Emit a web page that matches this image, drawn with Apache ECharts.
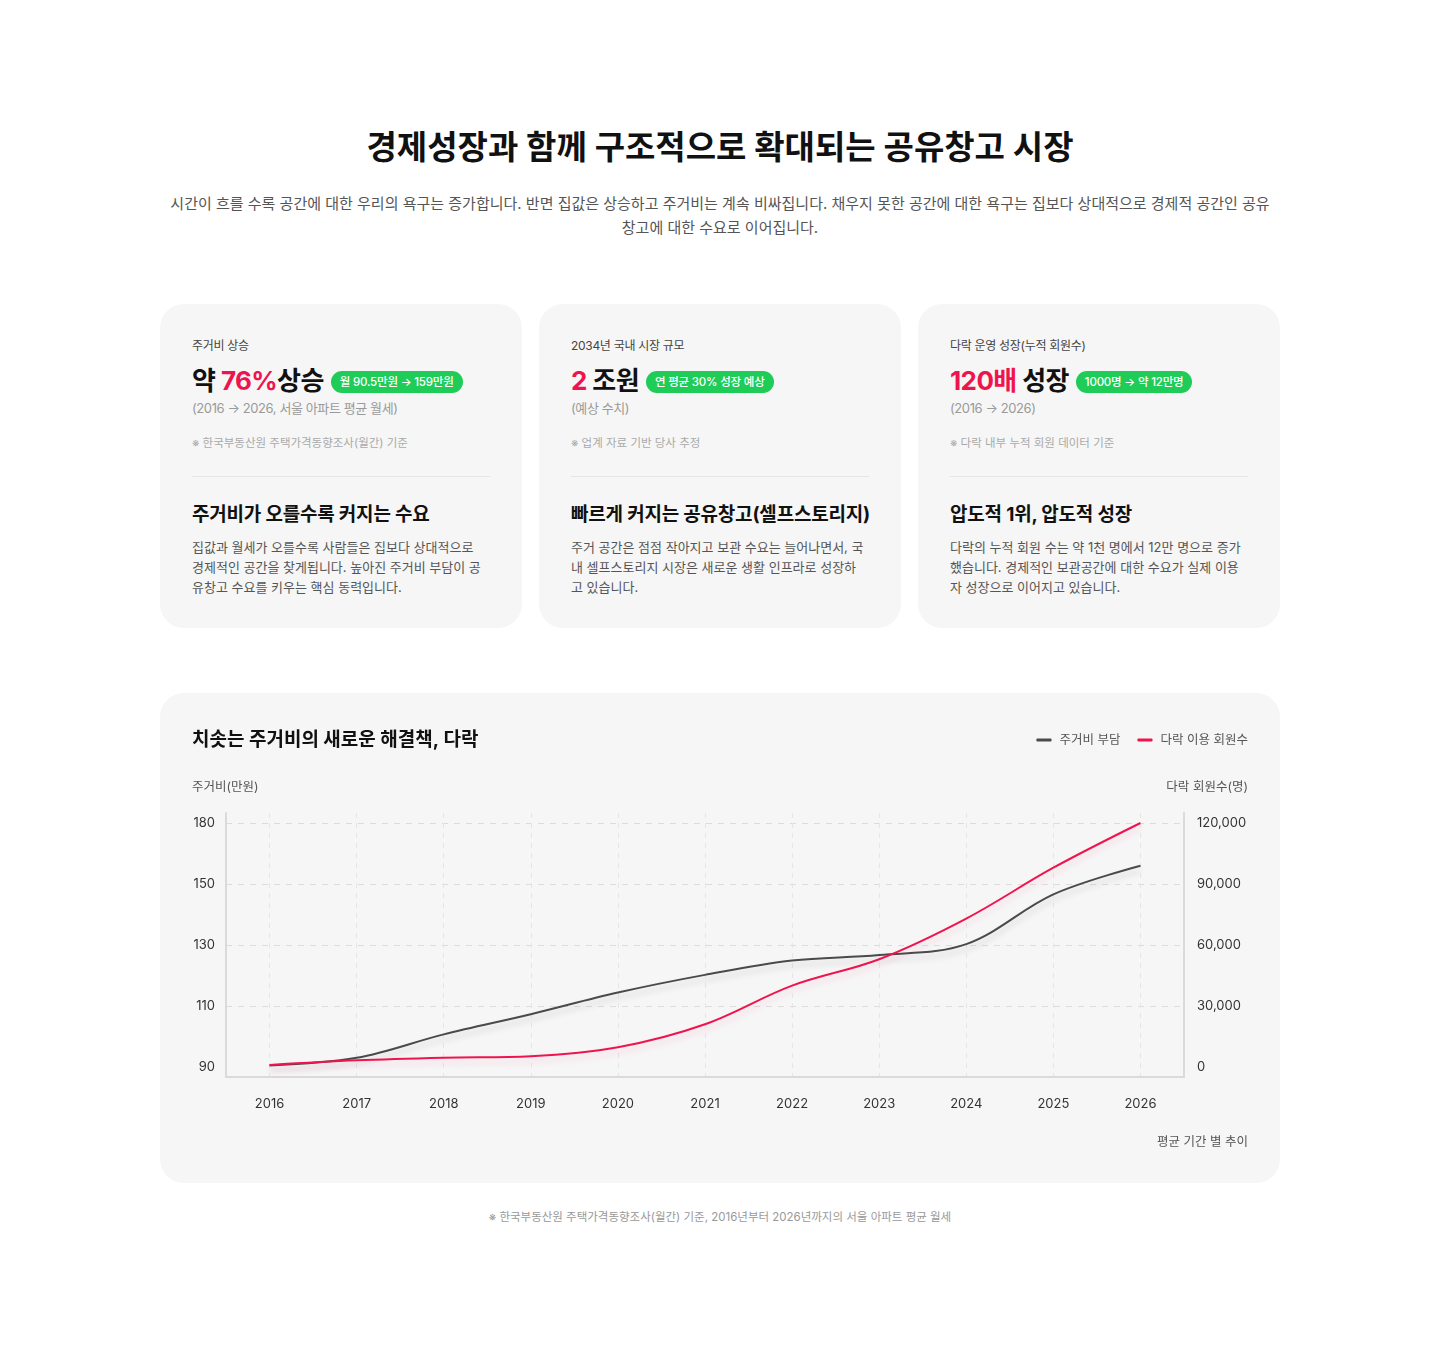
<!DOCTYPE html>
<html lang="ko">
<head>
<meta charset="utf-8">
<title>공유창고 시장</title>
<script src="https://cdn.jsdelivr.net/npm/echarts@6/dist/echarts.min.js"></script>
<style>
  * { margin: 0; padding: 0; box-sizing: border-box; }
  body { width: 1440px; height: 1346px; background: #fff; font-family: Inter, "Noto Sans CJK KR", sans-serif; color: #111; position: relative; }
  .abs { position: absolute; }
  .h_title { left: 0; width: 1440px; top: 125px; line-height: 44px; font-size: 33px; font-weight: 700; text-align: center; }
  .h_sub { left: 0; width: 1440px; top: 192px; line-height: 24px; font-size: 15px; color: #555; text-align: center; white-space: nowrap; }
  .card { top: 304px; width: 362px; height: 324px; background: #f6f6f6; border-radius: 24px; }
  .card > div { position: absolute; left: 32px; white-space: nowrap; }
  .c_label { top: 34px; line-height: 16px; font-size: 12px; color: #444; letter-spacing: -0.3px; }
  .c_big { top: 61px; line-height: 32px; font-size: 26px; font-weight: 700; letter-spacing: -0.6px; }
  .c_big .red { color: #f0144e; }
  .badge { display: inline-block; vertical-align: 4px; margin-left: 7px; height: 22px; line-height: 22px; padding: 0 9px; border-radius: 11px; background: #1fcc58; color: #fff; font-size: 11.5px; font-weight: 500; letter-spacing: -0.2px; }
  .c_sub { top: 95px; line-height: 18px; font-size: 13px; color: #9a9a9a; letter-spacing: -0.4px; }
  .c_note { top: 131px; line-height: 16px; font-size: 11.5px; color: #aaa; }
  .c_line { top: 172px; width: 298px; height: 1px; background: #e6e6e6; }
  .c_head { top: 198px; line-height: 26px; font-size: 19px; font-weight: 700; letter-spacing: -0.2px; }
  .c_body { top: 233px; line-height: 20px; font-size: 13px; color: #555; }
  .chart_card { left: 160px; top: 693px; width: 1120px; height: 490px; background: #f6f6f6; border-radius: 24px; }
  #main { position: absolute; left: 0; top: 0; width: 1120px; height: 490px; }
  .foot { left: 0; width: 1440px; top: 1209px; line-height: 16px; font-size: 11.5px; color: #999; text-align: center; }
</style>
</head>
<body>

<div class="abs h_title">경제성장과 함께 구조적으로 확대되는 공유창고 시장</div>
<div class="abs h_sub">시간이 흐를 수록 공간에 대한 우리의 욕구는 증가합니다. 반면 집값은 상승하고 주거비는 계속 비싸집니다. 채우지 못한 공간에 대한 욕구는 집보다 상대적으로 경제적 공간인 공유<br>창고에 대한 수요로 이어집니다.</div>

<!-- 카드 1 -->
<div class="abs card" style="left:160px">
  <div class="c_label">주거비 상승</div>
  <div class="c_big">약 <span class="red">76%</span>상승<span class="badge">월 90.5만원 → 159만원</span></div>
  <div class="c_sub">(2016 → 2026, 서울 아파트 평균 월세)</div>
  <div class="c_note">※ 한국부동산원 주택가격동향조사(월간) 기준</div>
  <div class="c_line"></div>
  <div class="c_head">주거비가 오를수록 커지는 수요</div>
  <div class="c_body">집값과 월세가 오를수록 사람들은 집보다 상대적으로<br>경제적인 공간을 찾게됩니다. 높아진 주거비 부담이 공<br>유창고 수요를 키우는 핵심 동력입니다.</div>
</div>

<!-- 카드 2 -->
<div class="abs card" style="left:539px">
  <div class="c_label">2034년 국내 시장 규모</div>
  <div class="c_big"><span class="red">2</span> 조원<span class="badge">연 평균 30% 성장 예상</span></div>
  <div class="c_sub">(예상 수치)</div>
  <div class="c_note">※ 업계 자료 기반 당사 추정</div>
  <div class="c_line"></div>
  <div class="c_head">빠르게 커지는 공유창고(셀프스토리지)</div>
  <div class="c_body">주거 공간은 점점 작아지고 보관 수요는 늘어나면서, 국<br>내 셀프스토리지 시장은 새로운 생활 인프라로 성장하<br>고 있습니다.</div>
</div>

<!-- 카드 3 -->
<div class="abs card" style="left:918px">
  <div class="c_label">다락 운영 성장(누적 회원수)</div>
  <div class="c_big"><span class="red">120배</span> 성장<span class="badge">1000명 → 약 12만명</span></div>
  <div class="c_sub">(2016 → 2026)</div>
  <div class="c_note">※ 다락 내부 누적 회원 데이터 기준</div>
  <div class="c_line"></div>
  <div class="c_head">압도적 1위, 압도적 성장</div>
  <div class="c_body">다락의 누적 회원 수는 약 1천 명에서 12만 명으로 증가<br>했습니다. 경제적인 보관공간에 대한 수요가 실제 이용<br>자 성장으로 이어지고 있습니다.</div>
</div>

<!-- 차트 카드 -->
<div class="abs chart_card">
  <div id="main"></div>
</div>

<div class="abs foot">※ 한국부동산원 주택가격동향조사(월간) 기준, 2016년부터 2026년까지의 서울 아파트 평균 월세</div>

<script>
// ------ 데이터 ------------------------------------------------
var years = ["2016", "2017", "2018", "2019", "2020", "2021", "2022", "2023", "2024", "2025", "2026"];
// 왼쪽 축 눈금 (간격은 같지만 값은 고르지 않음)
var costTicks = [90, 110, 130, 150, 180];
// 주거비 (만원)
var housingCost = [90.5, 93.0, 100.7, 107.3, 114.4, 120.2, 124.9, 126.7, 130.3, 146.6, 159];
// 다락 누적 회원수 (명)
var members = [1000, 3300, 4600, 5300, 9700, 21000, 40000, 53000, 73000, 98000, 120000];

var FONT = "Inter, 'Noto Sans CJK KR', sans-serif";
var GRAY = "#4a4a4a";
var RED = "#f0144e";

// 주거비 값을 왼쪽 축 눈금 위치(0~4)로 바꿈 - 눈금 사이는 직선 보간
function costToIndex(v) {
    for (var i = 0; i < costTicks.length - 1; i++) {
        if (v <= costTicks[i + 1]) {
            return i + (v - costTicks[i]) / (costTicks[i + 1] - costTicks[i]);
        }
    }
    return costTicks.length - 1;
}

window.addEventListener("load", function () {
    var myChart = echarts.init(document.getElementById("main"));

    // 축 위 아래로 10px 여유 (축 높이 264px 중 244px 가 눈금 구간)
    var padIdx = 4 * 10 / 244;
    var padMem = 120000 * 10 / 244;

    var option = {
        textStyle: { fontFamily: FONT },
        title: {
            text: "치솟는 주거비의 새로운 해결책, 다락",
            left: 32,
            top: 34,
            padding: 0,
            textStyle: { fontSize: 19, fontWeight: 700, color: "#111", lineHeight: 26, fontFamily: FONT }
        },
        legend: {
            right: 32,
            top: 39,
            padding: 0,
            icon: "roundRect",
            itemWidth: 15,
            itemHeight: 3,
            itemGap: 17,
            textStyle: { fontSize: 12.5, color: "#555", lineHeight: 16, padding: [0, 0, 0, 3], fontFamily: FONT },
            data: ["주거비 부담", "다락 이용 회원수"]
        },
        grid: {
            left: 66,
            right: 96,
            top: 120,
            bottom: 106,
            outerBoundsMode: "none"
        },
        xAxis: {
            type: "category",
            data: years,
            boundaryGap: true,
            axisTick: { show: false },
            axisLine: { onZero: false, lineStyle: { color: "#dadada", width: 2 } },
            axisLabel: { color: "#333", fontSize: 13, margin: 21, fontFamily: FONT },
            splitLine: {
                show: true,
                alignWithLabel: true,
                lineStyle: { color: "#e6e6e6", type: [5, 5], width: 1 }
            }
        },
        yAxis: [
            {
                type: "value",
                min: -padIdx,
                max: 4 + padIdx,
                splitNumber: 4,
                axisLine: { show: true, lineStyle: { color: "#dadada", width: 2 } },
                axisTick: { show: false },
                axisLabel: {
                    color: "#333",
                    fontSize: 13,
                    margin: 11,
                    fontFamily: FONT,
                    showMinLabel: false,
                    showMaxLabel: false,
                    formatter: function (v) {
                        var i = Math.round(v);
                        if (Math.abs(v - i) > 1e-6 || i < 0 || i >= costTicks.length) return "";
                        return String(costTicks[i]);
                    }
                },
                splitLine: {
                    show: true,
                    showMinLine: false,
                    showMaxLine: false,
                    // 첫 번째(90) 선은 숨김
                    lineStyle: { color: ["rgba(0,0,0,0)", "#dcdcdc", "#dcdcdc", "#dcdcdc", "#dcdcdc"], type: [6, 6], width: 1 }
                }
            },
            {
                type: "value",
                position: "right",
                min: -padMem,
                max: 120000 + padMem,
                splitNumber: 4,
                axisLine: { show: true, lineStyle: { color: "#dadada", width: 2 } },
                axisTick: { show: false },
                splitLine: { show: false },
                axisLabel: {
                    color: "#333",
                    fontSize: 13,
                    margin: 13,
                    fontFamily: FONT,
                    showMinLabel: false,
                    showMaxLabel: false,
                    formatter: function (v) {
                        if (v < 0 || v % 30000 !== 0) return "";
                        return v.toLocaleString("en-US");
                    }
                }
            }
        ],
        graphic: [
            {
                type: "text",
                left: 32,
                top: 88,
                style: { text: "주거비(만원)", fill: "#555", font: "12.5px " + FONT }
            },
            {
                type: "text",
                right: 32,
                top: 88,
                style: { text: "다락 회원수(명)", fill: "#555", font: "12.5px " + FONT }
            },
            {
                type: "text",
                right: 32,
                top: 443,
                style: { text: "평균 기간 별 추이", fill: "#555", font: "12.5px " + FONT }
            }
        ],
        series: [
            {
                name: "주거비 부담",
                type: "line",
                yAxisIndex: 0,
                smooth: 0.35,
                showSymbol: false,
                symbol: "none",
                itemStyle: { color: GRAY },
                lineStyle: {
                    color: GRAY,
                    width: 2,
                    shadowColor: "rgba(0,0,0,0.16)",
                    shadowBlur: 6,
                    shadowOffsetY: 5
                },
                data: housingCost.map(costToIndex)
            },
            {
                name: "다락 이용 회원수",
                type: "line",
                yAxisIndex: 1,
                smooth: 0.35,
                showSymbol: false,
                symbol: "none",
                itemStyle: { color: RED },
                lineStyle: {
                    color: RED,
                    width: 2,
                    shadowColor: "rgba(240,20,78,0.16)",
                    shadowBlur: 6,
                    shadowOffsetY: 5
                },
                data: members
            }
        ]
    };

    myChart.setOption(option);

    window.addEventListener("resize", function () {
        myChart.resize();
    });
});
</script>
</body>
</html>
